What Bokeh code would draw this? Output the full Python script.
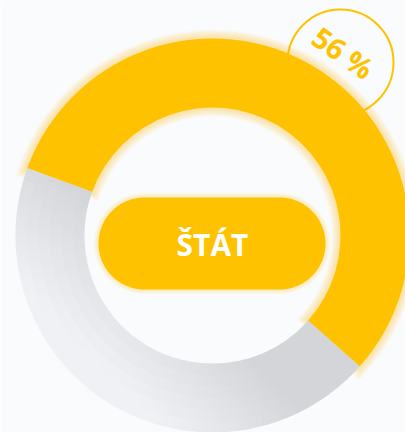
import numpy as np
from bokeh.plotting import figure
from bokeh.models import Range1d
from bokeh.core.properties import value
from bokeh.embed import file_html
from bokeh.resources import INLINE

# ---- data ----
categories = ["ŠTÁT", "Ostatné"]
shares = [56, 44]
badge_text = "56 %"
center_text = "ŠTÁT"

# ---- style ----
BG = "#FAFBFD"
YELLOW = "#FFC200"
GRAY_DARK = np.array([0xD4, 0xD5, 0xD8], dtype=float)
GRAY_LIGHT = np.array([0xF0, 0xF1, 0xF4], dtype=float)

W, H = 405, 432
p = figure(width=W, height=H, x_range=Range1d(0, W), y_range=Range1d(0, H),
           output_backend="svg", toolbar_location=None, min_border=0,
           x_axis_type=None, y_axis_type=None)
p.grid.visible = False
p.outline_line_color = None
p.background_fill_color = BG
p.border_fill_color = BG

cx, cy = 212, 197
R_out, R_in = 197, 128
R_mid = (R_out + R_in) / 2
boundary = np.deg2rad(160.0)

total = float(sum(shares))
spans = [2 * np.pi * s / total for s in shares]
# yellow goes clockwise from the boundary, gray anticlockwise
y_a0, y_a1 = boundary - spans[0], boundary
g_a0, g_a1 = boundary, boundary + spans[1]

# ---- badge circle (behind ring) ----
p.circle(x=[340], y=[370], radius=53, fill_color=BG, line_color=YELLOW, line_width=2)

# ---- glow for yellow segment ----
for k in range(1, 10):
    p.annular_wedge(x=cx, y=cy, inner_radius=R_in - k, outer_radius=R_out + k,
                    start_angle=y_a0 - k / R_mid, end_angle=y_a1 + k / R_mid,
                    fill_color=YELLOW, fill_alpha=0.045, line_color=None)

# ---- gray segment with linear gradient ----
n_ang, n_rad = 90, 6
angs = np.linspace(g_a0, g_a1, n_ang + 1)
rads = np.linspace(R_in, R_out, n_rad + 1)
xs, ys, sa, ea, ir, orr, cols = [], [], [], [], [], [], []
for i in range(n_ang):
    for j in range(n_rad):
        th = 0.5 * (angs[i] + angs[i + 1])
        r = 0.5 * (rads[j] + rads[j + 1])
        proj = (r * np.cos(th) + r * np.sin(th)) / np.sqrt(2)
        t = np.clip((proj + 170.0) / 110.0, 0, 1)
        c = GRAY_LIGHT + t * (GRAY_DARK - GRAY_LIGHT)
        cols.append("#%02x%02x%02x" % tuple(int(round(v)) for v in c))
        sa.append(angs[i])
        ea.append(min(angs[i + 1] + 0.004, g_a1))
        ir.append(rads[j])
        orr.append(rads[j + 1] + (0.7 if j < n_rad - 1 else 0))
        xs.append(cx)
        ys.append(cy)
p.annular_wedge(x=xs, y=ys, inner_radius=ir, outer_radius=orr, start_angle=sa,
                end_angle=ea, fill_color=cols, line_color=None)

# ---- yellow segment ----
p.annular_wedge(x=cx, y=cy, inner_radius=R_in, outer_radius=R_out,
                start_angle=y_a0, end_angle=y_a1, fill_color=YELLOW, line_color=None)

# ---- centre pill ----
def pill(xc, yc, w, h, n=60):
    r = h / 2
    a = np.linspace(-np.pi / 2, np.pi / 2, n)
    right_x = xc + w / 2 - r + r * np.cos(a)
    right_y = yc + r * np.sin(a)
    b = np.linspace(np.pi / 2, 3 * np.pi / 2, n)
    left_x = xc - w / 2 + r + r * np.cos(b)
    left_y = yc + r * np.sin(b)
    return np.concatenate([right_x, left_x]), np.concatenate([right_y, left_y])

px, py, pw, ph = 211.5, 189, 227, 92
for k in range(1, 6):
    gx, gy = pill(px, py, pw + 2 * k, ph + 2 * k)
    p.patch(gx, gy, fill_color=YELLOW, fill_alpha=0.05, line_color=None)
bx, by = pill(px, py, pw, ph)
p.patch(bx, by, fill_color=YELLOW, line_color=None)

p.text(x=[212], y=[188], text=[center_text], text_font=value("Open Sans"),
       text_font_style="bold", text_font_size="30px", text_color="white",
       text_align="center", text_baseline="alphabetic")

p.text(x=[343], y=[380], text=[badge_text], angle=np.deg2rad(-35),
       text_font=value("Open Sans"), text_font_style="bold", text_font_size="29px",
       text_color=YELLOW, text_align="center", text_baseline="middle")

open("out.html", "w").write(file_html(p, INLINE))
